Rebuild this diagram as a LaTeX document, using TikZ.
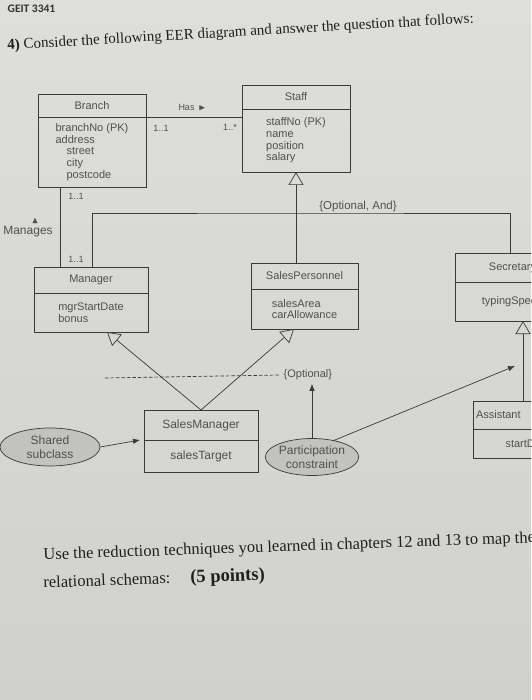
\documentclass[tikz,border=0pt]{standalone}
\usepackage{amssymb}
\usepackage{fontspec}
\setmainfont{Liberation Serif}
\setsansfont{Liberation Sans}
\newfontfamily\labelfont{Carlito}
\usetikzlibrary{positioning,shapes.geometric,arrows.meta}

\definecolor{papertop}{RGB}{222,223,219}
\definecolor{paperlow}{RGB}{208,209,204}
\definecolor{ink}{RGB}{58,58,58}
\definecolor{soft}{RGB}{80,80,80}
\definecolor{bubble}{RGB}{194,195,190}

\tikzset{
	classhead/.style={draw=ink, text=soft, inner sep=0pt, outer sep=0pt, font=\sffamily\fontsize{11}{11.75}\selectfont},
	classbody/.style={draw=ink, text=soft, inner sep=0pt, outer sep=0pt, align=left, font=\sffamily\fontsize{11}{11.75}\selectfont},
	gen/.style={draw=ink, -{Triangle[open,length=13pt,width=15pt]}},
	link/.style={draw=ink, -{Latex[length=7pt,width=5.5pt]}},
	bubblenote/.style={ellipse, draw=ink, fill=bubble, text=soft, inner sep=0pt, align=center, font=\sffamily\fontsize{12}{14}\selectfont},
	mult/.style={text=soft, font=\sffamily\fontsize{9}{10}\selectfont}
}

\begin{document}
\begin{tikzpicture}[x=1pt,y=-1pt,line width=0.7pt]
	\useasboundingbox (0,0) rectangle (531,700);
	\shade[top color=papertop, bottom color=paperlow] (0,0) rectangle (531,700);
	\clip (0,0) rectangle (531,700);

	% page text
	\node[anchor=base west, font=\labelfont\bfseries\fontsize{11.5}{12}\selectfont, text=black!80] (course) at (4,13) {GEIT 3341};
	\node[anchor=base west, rotate=3.3, font=\fontsize{15}{17}\selectfont, text=black!88] (task) at (4,50) {\textbf{4)} Consider the following EER diagram and answer the question that follows:};

	% classes
	\node[classhead, minimum width=108pt, minimum height=23pt, anchor=north west] (branch) at (38,94) {Branch};
	\node[classbody, minimum width=108pt, minimum height=70pt, below=0pt of branch] (branchattr) {branchNo (PK)\\address\\\hspace*{11pt}street\\\hspace*{11pt}city\\\hspace*{11pt}postcode};

	\node[classhead, minimum width=108pt, minimum height=24pt, anchor=north west] (staff) at (242,85) {Staff};
	\node[classbody, minimum width=108pt, minimum height=63pt, below=0pt of staff] (staffattr) {staffNo (PK)\\name\\position\\salary};

	\node[classhead, minimum width=114pt, minimum height=26pt, anchor=north west] (manager) at (34,267) {Manager};
	\node[classbody, minimum width=114pt, minimum height=39pt, below=0pt of manager] (managerattr) {mgrStartDate\\bonus};

	\node[classhead, minimum width=107pt, minimum height=26pt, anchor=north west] (sales) at (251,263) {SalesPersonnel};
	\node[classbody, minimum width=107pt, minimum height=40pt, below=0pt of sales] (salesattr) {salesArea\\carAllowance};

	\node[classhead, minimum width=115pt, minimum height=29pt, anchor=north west] (secretary) at (455,253) {Secretary};
	\node[classbody, minimum width=115pt, minimum height=39pt, below=0pt of secretary] (secretaryattr) {typingSpeed};

	\node[classhead, text width=109pt, inner xsep=3pt, align=left, minimum height=28pt, anchor=north west] (assistant) at (473,401) {Assistant};
	\node[classbody, text width=50pt, inner xsep=32.5pt, minimum height=29pt, below=0pt of assistant] (assistantattr) {startDate};

	\node[classhead, minimum width=114pt, minimum height=30pt, anchor=north west, font=\sffamily\fontsize{12}{13}\selectfont] (salesmgr) at (144,410) {SalesManager};
	\node[classbody, minimum width=114pt, minimum height=32pt, below=0pt of salesmgr, font=\sffamily\fontsize{12}{13}\selectfont] (salesmgrattr) {salesTarget};

	% associations
	\draw[ink] (branch.south east) -- (branch.south east -| staffattr.west);
	\node[mult] (has) at (192,108) {Has \,$\blacktriangleright$};
	\node[mult] (branchone) at (161,128) {1..1};
	\node[mult] (staffmany) at (230,127) {1..*};

	\draw[ink] ([xshift=22pt]branchattr.south west) -- ([xshift=22pt]branchattr.south west |- manager.north);
	\node[mult] (mgrtop) at (76,196) {1..1};
	\node[mult] (mgrbottom) at (76,259) {1..1};
	\node[mult] (arrowup) at (35,221) {$\blacktriangle$};
	\node[mult, font=\sffamily\fontsize{12}{13}\selectfont] (manages) at (28,232) {Manages};

	% specialization of Staff
	\coordinate (bar) at (300,213);
	\draw[ink] ([xshift=58pt]manager.north west) |- (bar) -| ([xshift=55pt]secretary.north west);
	\draw[gen] (staffattr.south |- sales.north) -- (staffattr.south);
	\node[mult, font=\sffamily\fontsize{11.5}{12}\selectfont] (optand) at (358,207) {\{Optional, And\}};

	% shared subclass
	\draw[gen] (salesmgr.north) -- ([xshift=73pt]managerattr.south west);
	\draw[gen] (salesmgr.north) -- ([xshift=43pt]salesattr.south west);
	\node[mult, font=\sffamily\fontsize{11}{12}\selectfont, anchor=west] (optional) at (280,375) {\{Optional\}};
	\coordinate (dashstart) at (105,378);
	\draw[ink, dash pattern=on 3.5pt off 2pt] (dashstart) -- (optional.west);

	% secretary subclass
	\draw[gen] (assistant.north -| 523,0) -- (secretaryattr.south -| 523,0);

	% notes
	\node[bubblenote, minimum width=100pt, minimum height=38pt] (shared) at (50,447) {Shared\\subclass};
	\draw[link] (shared.east) -- ([xshift=-4pt]salesmgr.south west);

	\node[bubblenote, minimum width=92pt, minimum height=37pt] (participation) at (312,457) {Participation\\constraint};
	\coordinate (assistlink) at (515,366);
	\draw[link] (participation.north) -- (participation.north |- optional.south);
	\draw[link] (participation.north east) ++(-12pt,3pt) -- (assistlink);

	% question
	\node[anchor=base west, rotate=2, font=\fontsize{16.5}{18}\selectfont, text=black!88] (useline) at (40,560) {Use the reduction techniques you learned in chapters 12 and 13 to map the};
	\node[anchor=base west, rotate=2, font=\fontsize{16.5}{18}\selectfont, text=black!88] (schemaline) at (40,588) {relational schemas:\hspace{20pt}{\fontsize{18.5}{19}\selectfont\textbf{(5 points)}}};
\end{tikzpicture}
\end{document}
